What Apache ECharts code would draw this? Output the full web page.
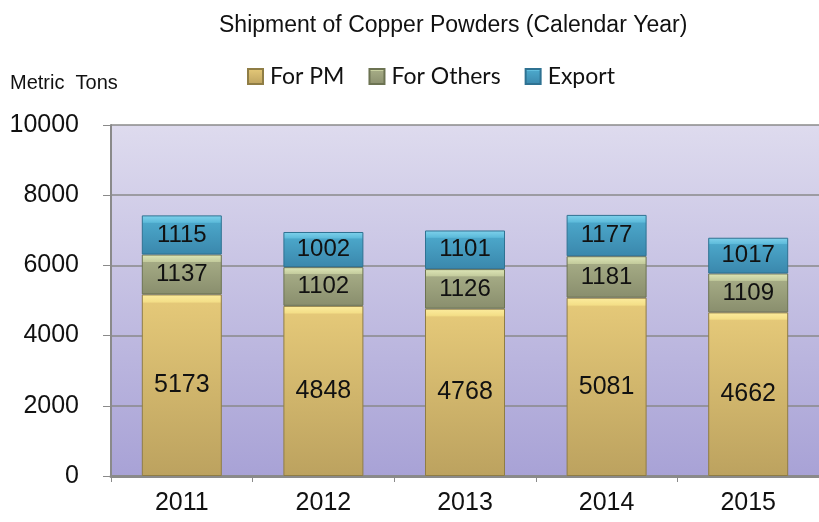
<html lang="en">
<head>
    <meta charset="UTF-8">
    <title>Shipment of Copper Powders</title>
    <script src="https://cdn.jsdelivr.net/npm/echarts@6.0.0/dist/echarts.min.js"></script>
</head>
<body style="margin:0;background:#fff;">
    <div id="main" style="width: 819px;height:522px;"></div>
    <script type="text/javascript">
        var years = ['2011', '2012', '2013', '2014', '2015'];
        var forPM = [5173, 4848, 4768, 5081, 4662];
        var forOthers = [1137, 1102, 1126, 1181, 1109];
        var exportTons = [1115, 1002, 1101, 1177, 1017];
        var yTicks = [0, 2000, 4000, 6000, 8000, 10000];

        var myChart = echarts.init(document.getElementById('main'));

        // bevel-like fill: light band on top, then a vertical gradient
        function bevel(edge, edge2, top, bottom, band) {
            return new echarts.graphic.LinearGradient(0, 0, 0, 1, [
                { offset: 0, color: edge },
                { offset: band, color: edge2 },
                { offset: band + 0.01, color: top },
                { offset: 1, color: bottom }
            ]);
        }

        var labelFont = 'Arial';

        var option = {
            animation: false,
            backgroundColor: '#ffffff',
            title: {
                text: 'Shipment of Copper Powders (Calendar Year)',
                left: 214,
                top: 9,
                textStyle: { fontFamily: labelFont, fontSize: 23, fontWeight: 'normal', color: '#111' }
            },
            graphic: [{
                type: 'text',
                left: 10,
                top: 73,
                style: { text: 'Metric  Tons', font: '20px Arial', fill: '#111' }
            }],
            legend: {
                top: 60,
                left: 242,
                itemWidth: 15,
                itemHeight: 15,
                itemGap: 24,
                icon: 'rect',
                textStyle: { fontFamily: 'Lato', fontSize: 23, color: '#111', padding: [0, 0, 0, 2] },
                data: ['For PM', 'For Others', 'Export']
            },
            grid: {
                left: 111,
                top: 125,
                width: 720,
                height: 351,
                show: true,
                backgroundColor: new echarts.graphic.LinearGradient(0, 0, 0, 1, [
                    { offset: 0, color: '#dedbee' },
                    { offset: 1, color: '#a8a2d6' }
                ]),
                borderWidth: 0
            },
            xAxis: {
                type: 'category',
                data: years,
                axisLine: { lineStyle: { color: '#8a8a8a', width: 3 } },
                axisTick: { show: true, length: 6, lineStyle: { color: '#8a8a8a' } },
                axisLabel: { fontFamily: labelFont, fontSize: 25, color: '#111', margin: 15 }
            },
            yAxis: {
                type: 'value',
                min: yTicks[0],
                max: yTicks[yTicks.length - 1],
                interval: 2000,
                axisLine: { show: true, lineStyle: { color: '#8a8a8a', width: 2 } },
                axisTick: { show: true, length: 8, lineStyle: { color: '#8a8a8a' } },
                splitLine: { lineStyle: { color: '#8a8a8a', width: 1.5 } },
                axisLabel: {
                    fontFamily: labelFont, fontSize: 25, color: '#111', margin: 32,
                    formatter: function (v) { return String(v); }
                }
            },
            series: [{
                name: 'For PM',
                type: 'bar',
                stack: 'total',
                barWidth: 80,
                data: forPM,
                itemStyle: { color: bevel('#fcec9e', '#f4df88', '#e4c878', '#bca25f', 0.04), borderColor: '#8f7d45', borderWidth: 1 },
                label: { show: true, position: 'inside', fontFamily: labelFont, fontSize: 25, color: '#111' }
            }, {
                name: 'For Others',
                type: 'bar',
                stack: 'total',
                data: forOthers,
                itemStyle: { color: bevel('#dfe7b8', '#c3cb9c', '#a4aa84', '#898e6d', 0.18), borderColor: '#6c7352', borderWidth: 1 },
                label: { show: true, position: 'inside', fontFamily: labelFont, fontSize: 24, color: '#111' }
            }, {
                name: 'Export',
                type: 'bar',
                stack: 'total',
                data: exportTons,
                itemStyle: { color: bevel('#80d2ec', '#5cbada', '#4ba6c9', '#3a87ac', 0.18), borderColor: '#2f7292', borderWidth: 1 },
                label: { show: true, position: 'inside', fontFamily: labelFont, fontSize: 24, color: '#111' }
            }]
        };
        myChart.setOption(option);
    </script>
</body>
</html>
